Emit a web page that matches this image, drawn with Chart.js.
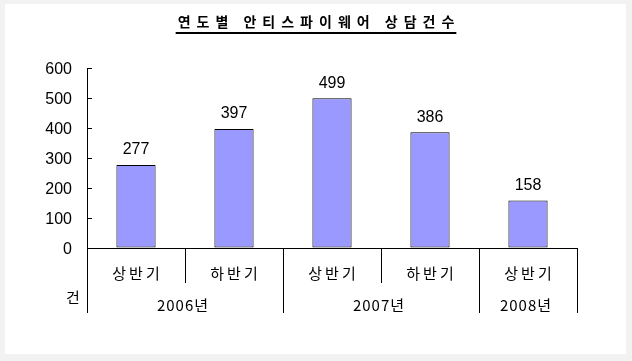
<!DOCTYPE html>
<html>
<head>
<meta charset="utf-8">
<script src="https://cdn.jsdelivr.net/npm/chart.js@4.4.1/dist/chart.umd.min.js"></script>
<style>
  html, body { margin:0; padding:0; background:#f2f2f2; }
  #frame { position:absolute; left:5px; top:4px; width:621px; height:350px; background:#fff; }
  #wrap { position:absolute; left:0; top:0; width:632px; height:361px; }
</style>
</head>
<body>
<div id="frame"></div>
<div id="wrap"><canvas id="c" width="632" height="361"></canvas></div>
<script>
const title = "연도별 안티스파이웨어 상담건수";
const halfLabels = ["상반기", "하반기", "상반기", "하반기", "상반기"];
const yearLabels = ["2006년", "2007년", "2008년"];
const yearSpans = [2, 2, 1];
const counts = [277, 397, 499, 386, 158];
const yTicks = [0, 100, 200, 300, 400, 500, 600];
const unitLabel = "건";

const KFONT = '"Noto Sans CJK KR", "Noto Sans", sans-serif';
const NFONT = '"Liberation Sans", Arial, sans-serif';

const overlay = {
  id: 'overlay',
  afterDraw(chart) {
    const ctx = chart.ctx;
    const x = chart.scales.x, y = chart.scales.y;
    const n = halfLabels.length;
    const w = (x.right - x.left) / n;
    const y0 = Math.round(y.getPixelForValue(0)) + 0.5;
    ctx.save();
    ctx.strokeStyle = '#000';
    ctx.lineWidth = 1;
    // inward y ticks
    yTicks.forEach(v => {
      const py = Math.round(y.getPixelForValue(v)) + 0.5;
      ctx.beginPath();
      ctx.moveTo(x.left, py);
      ctx.lineTo(x.left + 5, py);
      ctx.stroke();
    });
    // separators
    const yearBounds = [0];
    let acc = 0;
    yearSpans.forEach(s => { acc += s; yearBounds.push(acc); });
    for (let k = 0; k <= n; k++) {
      const px = Math.round(x.left + k * w) + 0.5;
      const isYear = yearBounds.includes(k);
      ctx.beginPath();
      ctx.moveTo(px, y0);
      ctx.lineTo(px, isYear ? 313 : 283);
      ctx.stroke();
    }
    // half labels
    ctx.fillStyle = '#000';
    ctx.textAlign = 'center';
    ctx.textBaseline = 'middle';
    ctx.font = '15px ' + KFONT;
    ctx.letterSpacing = '3px';
    halfLabels.forEach((lab, i) => {
      ctx.fillText(lab, x.getPixelForValue(i) + 1.5, 273);
    });
    // year labels
    ctx.letterSpacing = '1px';
    let start = 0;
    yearLabels.forEach((lab, i) => {
      const a = x.left + start * w, b = x.left + (start + yearSpans[i]) * w;
      ctx.fillText(lab, (a + b) / 2 - 2, 305);
      start += yearSpans[i];
    });
    ctx.letterSpacing = '0px';
    // unit
    ctx.fillText(unitLabel, 73, 297);
    // value labels
    ctx.font = '16px ' + NFONT;
    const meta = chart.getDatasetMeta(0);
    meta.data.forEach((bar, i) => {
      ctx.fillText(String(counts[i]), bar.x, bar.y - 15);
    });
    // title
    ctx.font = 'bold 14px ' + KFONT;
    ctx.letterSpacing = '6px';
    ctx.textAlign = 'left';
    const tw = ctx.measureText(title).width - 6;
    const tx = 316 - tw / 2;
    ctx.fillText(title, tx, 22);
    ctx.letterSpacing = '0px';
    ctx.lineWidth = 2;
    ctx.beginPath();
    ctx.moveTo(tx - 2, 33);
    ctx.lineTo(tx + tw + 2, 33);
    ctx.stroke();
    ctx.restore();
  }
};

new Chart(document.getElementById('c'), {
  type: 'bar',
  data: {
    labels: halfLabels,
    datasets: [{
      data: counts,
      backgroundColor: '#9999ff',
      borderColor: '#000',
      borderWidth: 1,
      borderSkipped: false,
      barPercentage: 0.4,
      categoryPercentage: 1.0
    }]
  },
  options: {
    responsive: false,
    animation: false,
    events: [],
    layout: { padding: { left: 0, right: 55, top: 68, bottom: 113 } },
    plugins: { legend: { display: false }, tooltip: { enabled: false }, title: { display: false } },
    scales: {
      x: {
        grid: { display: false },
        ticks: { display: false },
        border: { display: true, color: '#000', width: 1 },
        afterFit(s) { s.height = 0; }
      },
      y: {
        min: 0, max: 600,
        afterBuildTicks(s) { s.ticks = yTicks.map(v => ({ value: v })); },
        grid: { drawOnChartArea: false, drawTicks: false },
        border: { display: true, color: '#000', width: 1 },
        ticks: { color: '#000', padding: 15, labelOffset: 2, font: { family: NFONT, size: 16 } },
        afterFit(s) { s.width = 87; }
      }
    }
  },
  plugins: [overlay]
});
</script>
</body>
</html>
